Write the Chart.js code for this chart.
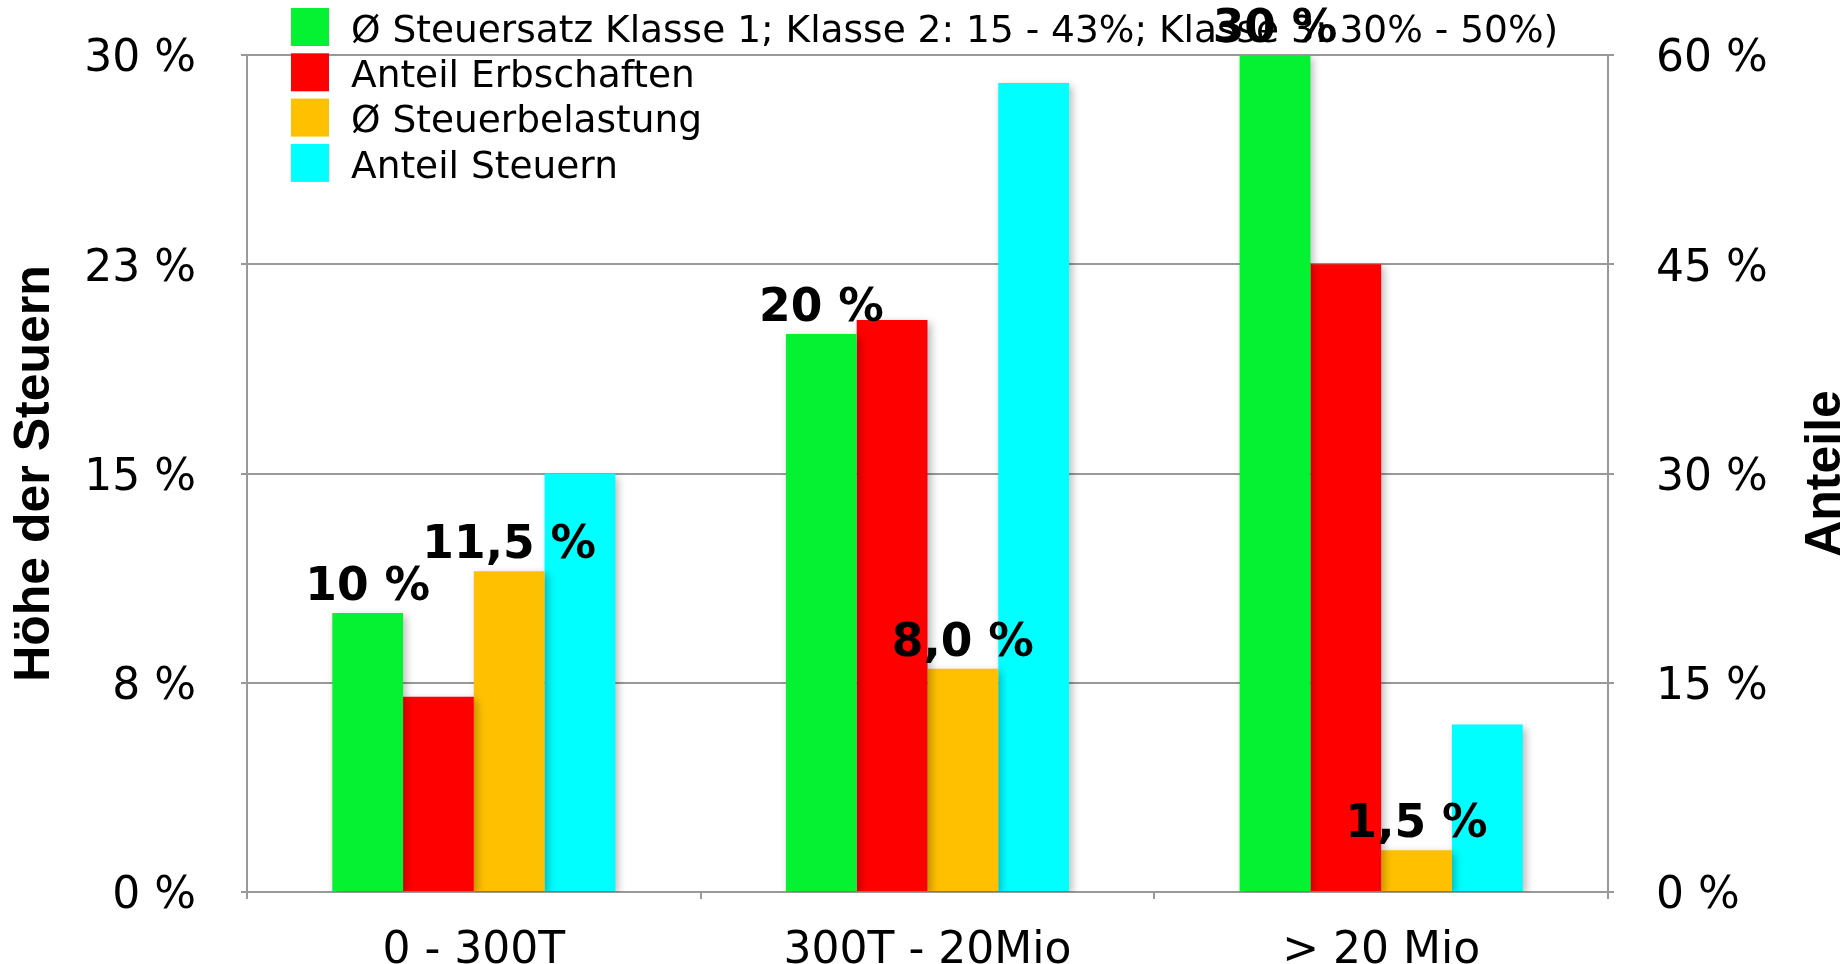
<!DOCTYPE html>
<html>
<head>
<meta charset="utf-8">
<title>Erbschaftsteuer</title>
<script src="https://cdn.jsdelivr.net/npm/chart.js@4/dist/chart.umd.min.js"></script>
<style>
  html, body { margin: 0; padding: 0; background: #fff; }
  #wrap { width: 1848px; height: 964px; }
</style>
</head>
<body>
<div id="wrap"><canvas id="taxChart" width="1848" height="964"></canvas></div>
<script>
const categories = ["0 - 300T", "300T - 20Mio", "> 20 Mio"];

const seriesNames = [
    "Ø Steuersatz Klasse 1; Klasse 2: 15 - 43%; Klasse 3: 30% - 50%)",
    "Anteil Erbschaften",
    "Ø Steuerbelastung",
    "Anteil Steuern"
];

// left axis (Höhe der Steuern)
const steuersatz = [10, 20, 30];
const steuerbelastung = [11.5, 8.0, 1.5];

// right axis (Anteile)
const anteilErbschaften = [14, 41, 45];
const anteilSteuern = [30, 58, 12];

const leftTicks = [0, 7.5, 15, 22.5, 30];
const leftTickLabels = ["0 %", "8 %", "15 %", "23 %", "30 %"];
const rightTicks = [0, 15, 30, 45, 60];
const rightTickLabels = ["0 %", "15 %", "30 %", "45 %", "60 %"];

const GRID = "#999999";

// value labels only on the two "Steuer" series
const labelFormat = {
    0: v => `${v} %`,
    2: v => `${v.toFixed(1).replace(".", ",")} %`
};

const barShadow = {
    id: "barShadow",
    beforeDatasetsDraw(chart) {
        const ctx = chart.ctx;
        ctx.save();
        ctx.shadowColor = "rgba(0,0,0,0.28)";
        ctx.shadowBlur = 8;
        ctx.shadowOffsetX = 3;
        ctx.shadowOffsetY = 3;
    },
    afterDatasetsDraw(chart) {
        chart.ctx.restore();
    }
};

const boxLegend = {
    id: "boxLegend",
    afterDraw(chart) {
        const ctx = chart.ctx;
        ctx.save();
        ctx.font = "37.5px 'DejaVu Sans'";
        ctx.textBaseline = "middle";
        ctx.textAlign = "left";
        chart.data.datasets.forEach((ds, i) => {
            const y = 8 + i * 45.3;
            ctx.fillStyle = ds.backgroundColor;
            ctx.fillRect(291, y, 38, 38);
            ctx.fillStyle = "#000";
            ctx.fillText(ds.label, 351, y + 24);
        });
        ctx.restore();
    }
};

const valueLabels = {
    id: "valueLabels",
    afterDraw(chart) {
        const ctx = chart.ctx;
        ctx.save();
        ctx.font = "bold 45.5px 'DejaVu Sans'";
        ctx.fillStyle = "#000";
        ctx.textAlign = "center";
        ctx.textBaseline = "alphabetic";
        chart.data.datasets.forEach((ds, i) => {
            if (!labelFormat[i]) return;
            chart.getDatasetMeta(i).data.forEach((bar, j) => {
                ctx.fillText(labelFormat[i](ds.data[j]), bar.x, bar.y - 13);
            });
        });
        ctx.restore();
    }
};

// right title reads bottom-to-top like the left one
const rightTitle = {
    id: "rightTitle",
    afterDraw(chart) {
        const ctx = chart.ctx;
        const area = chart.chartArea;
        ctx.save();
        ctx.translate(1826, (area.top + area.bottom) / 2);
        ctx.rotate(-Math.PI / 2);
        ctx.font = "bold 50px 'Liberation Sans'";
        ctx.fillStyle = "#000";
        ctx.textAlign = "center";
        ctx.textBaseline = "middle";
        ctx.fillText("Anteile", 0, 0);
        ctx.restore();
    }
};

// fixed side widths, and no extra label padding above/below the plot
function fitSide(width) {
    return s => {
        s.width = width;
        s.paddingTop = 0;
        s.paddingBottom = 0;
    };
}

const tickFont = { family: "DejaVu Sans", size: 44 };

const ctx = document.getElementById("taxChart").getContext("2d");

new Chart(ctx, {
    type: "bar",
    data: {
        labels: categories,
        datasets: [
            { label: seriesNames[0], data: steuersatz, backgroundColor: "#05f232", yAxisID: "y" },
            { label: seriesNames[1], data: anteilErbschaften, backgroundColor: "#ff0000", yAxisID: "y1" },
            { label: seriesNames[2], data: steuerbelastung, backgroundColor: "#ffc000", yAxisID: "y" },
            { label: seriesNames[3], data: anteilSteuern, backgroundColor: "#00ffff", yAxisID: "y1" }
        ]
    },
    options: {
        responsive: false,
        devicePixelRatio: 1,
        animation: false,
        layout: { padding: { top: 55, left: 0, right: 0, bottom: 0 } },
        datasets: {
            bar: { categoryPercentage: 0.624, barPercentage: 1, borderWidth: 0 }
        },
        plugins: {
            legend: { display: false },
            tooltip: { enabled: false }
        },
        scales: {
            x: {
                afterFit: s => { s.height = 72; },
                grid: { offset: true, drawOnChartArea: false, color: GRID, lineWidth: 2, tickLength: 7 },
                border: { color: GRID, width: 2 },
                ticks: { color: "#000", font: tickFont, padding: 26 }
            },
            y: {
                position: "left",
                min: 0,
                max: 30,
                afterFit: fitSide(247),
                afterBuildTicks: s => { s.ticks = leftTicks.map(v => ({ value: v })); },
                grid: { color: GRID, lineWidth: 2, tickLength: 6 },
                border: { color: GRID, width: 2 },
                ticks: {
                    color: "#000",
                    font: tickFont,
                    padding: 45,
                    labelOffset: 5,
                    callback: (v, i) => leftTickLabels[i]
                },
                title: {
                    display: true,
                    text: "Höhe der Steuern",
                    color: "#000",
                    font: { family: "Liberation Sans", size: 50, weight: "bold", lineHeight: 1 },
                    padding: { top: 10, bottom: 0 }
                }
            },
            y1: {
                position: "right",
                min: 0,
                max: 60,
                afterFit: fitSide(240),
                afterBuildTicks: s => { s.ticks = rightTicks.map(v => ({ value: v })); },
                grid: { drawOnChartArea: false, color: GRID, lineWidth: 2, tickLength: 6 },
                border: { color: GRID, width: 2 },
                ticks: {
                    color: "#000",
                    font: tickFont,
                    padding: 42,
                    labelOffset: 5,
                    callback: (v, i) => rightTickLabels[i]
                }
            }
        }
    },
    plugins: [barShadow, boxLegend, valueLabels, rightTitle]
});
</script>
</body>
</html>
